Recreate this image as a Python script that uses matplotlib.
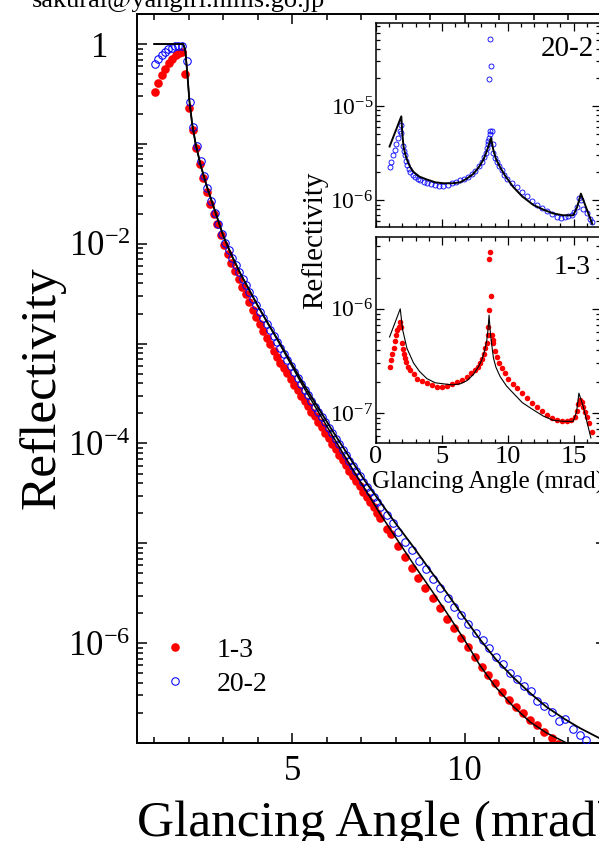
import numpy as np
import matplotlib
matplotlib.use('Agg')
import matplotlib.pyplot as plt
from matplotlib.ticker import LogLocator, MultipleLocator, FuncFormatter, NullFormatter

plt.rcParams['font.family'] = ['Liberation Serif', 'DejaVu Serif']
plt.rcParams['mathtext.fontset'] = 'custom'
plt.rcParams['mathtext.rm'] = 'Liberation Serif'
plt.rcParams['mathtext.it'] = 'Liberation Serif:italic'
plt.rcParams['mathtext.bf'] = 'Liberation Serif:bold'

# ---- main panel data (angle in mrad, log10 reflectivity) ----
angle_13 = [1.02, 1.12, 1.22, 1.32, 1.42, 1.52, 1.62, 1.72, 1.80, 1.89, 2.02, 2.11, 2.21, 2.32, 2.42,
            2.52, 2.63, 2.72, 2.83, 2.93, 3.03, 3.14, 3.24, 3.34, 3.45, 3.55, 3.65, 3.75, 3.85, 3.95,
            4.06, 4.16, 4.26, 4.36, 4.46, 4.56, 4.66, 4.76, 4.86, 4.96, 5.06, 5.16, 5.26, 5.36, 5.46,
            5.56, 5.66, 5.76, 5.86, 5.96, 6.06, 6.16, 6.26, 6.36, 6.46, 6.56, 6.66, 6.76, 6.86, 6.96,
            7.06, 7.16, 7.26, 7.36, 7.46, 7.56, 7.76, 7.86, 8.06, 8.26, 8.46, 8.66, 8.86, 9.08, 9.28,
            9.48, 9.68, 9.90, 10.10, 10.30, 10.50, 10.68, 10.88, 11.08, 11.28, 11.50, 11.70, 11.90,
            12.10, 12.30, 12.52, 12.72]
logR_13 = [-0.48, -0.39, -0.31, -0.25, -0.19, -0.15, -0.11, -0.09, -0.08, -0.30, -0.64, -0.86, -1.04,
           -1.20, -1.34, -1.48, -1.60, -1.70, -1.80, -1.91, -2.01, -2.10, -2.19, -2.27, -2.35, -2.43,
           -2.50, -2.58, -2.66, -2.73, -2.80, -2.87, -2.94, -3.00, -3.07, -3.13, -3.19, -3.24, -3.29,
           -3.35, -3.41, -3.46, -3.52, -3.57, -3.62, -3.68, -3.73, -3.79, -3.84, -3.90, -3.95, -4.01,
           -4.06, -4.12, -4.17, -4.22, -4.28, -4.33, -4.38, -4.43, -4.49, -4.54, -4.59, -4.64, -4.70,
           -4.75, -4.86, -4.91, -5.03, -5.14, -5.25, -5.35, -5.45, -5.55, -5.65, -5.76, -5.85, -5.95,
           -6.04, -6.14, -6.24, -6.32, -6.40, -6.49, -6.57, -6.64, -6.70, -6.77, -6.82, -6.89, -6.95,
           -7.01]

angle_202 = [1.02, 1.12, 1.22, 1.31, 1.41, 1.51, 1.60, 1.70, 1.80, 1.94, 2.04, 2.13, 2.23, 2.35, 2.44,
             2.54, 2.64, 2.76, 2.86, 2.96, 3.06, 3.16, 3.26, 3.36, 3.46, 3.56, 3.66, 3.76, 3.86, 3.96,
             4.06, 4.16, 4.26, 4.36, 4.46, 4.56, 4.66, 4.76, 4.86, 4.96, 5.06, 5.16, 5.26, 5.36, 5.46,
             5.56, 5.66, 5.76, 5.86, 5.96, 6.06, 6.16, 6.26, 6.36, 6.46, 6.56, 6.66, 6.76, 6.86, 6.96,
             7.06, 7.16, 7.26, 7.36, 7.46, 7.54, 7.74, 7.93, 8.07, 8.27, 8.46, 8.68, 8.88, 9.09, 9.28,
             9.51, 9.69, 9.89, 10.10, 10.32, 10.52, 10.71, 10.91, 11.12, 11.33, 11.52, 11.72, 11.92,
             12.11, 12.31, 12.52, 12.73, 12.92, 13.13, 13.34, 13.53]
logR_202 = [-0.20, -0.15, -0.11, -0.08, -0.05, -0.04, -0.02, -0.02, -0.02, -0.17, -0.58, -0.83, -1.02,
            -1.17, -1.32, -1.44, -1.57, -1.69, -1.80, -1.90, -1.99, -2.06, -2.14, -2.21, -2.28, -2.35,
            -2.41, -2.48, -2.55, -2.61, -2.68, -2.74, -2.80, -2.86, -2.92, -2.98, -3.04, -3.10, -3.16,
            -3.22, -3.28, -3.34, -3.40, -3.46, -3.51, -3.57, -3.63, -3.68, -3.74, -3.79, -3.85, -3.90,
            -3.96, -4.01, -4.07, -4.12, -4.18, -4.23, -4.28, -4.33, -4.39, -4.44, -4.49, -4.54, -4.59,
            -4.64, -4.72, -4.80, -4.89, -4.99, -5.07, -5.18, -5.26, -5.36, -5.45, -5.55, -5.64, -5.72,
            -5.81, -5.90, -5.97, -6.05, -6.14, -6.21, -6.30, -6.36, -6.43, -6.48, -6.58, -6.63, -6.69,
            -6.78, -6.76, -6.86, -6.92, -6.97]

fit_angle_202 = [1.00, 1.84, 1.90, 1.96, 2.02, 2.10, 2.20, 2.35, 2.52, 2.75, 3.00, 3.25, 3.50, 3.75,
                 4.00, 4.30, 4.60, 5.00, 5.32, 5.75, 6.20, 6.72, 7.10, 7.54, 8.00, 8.50, 9.00, 9.49,
                 10.00, 10.44, 10.90, 11.40, 11.90, 12.38, 12.90, 13.34, 13.90, 14.20]
fit_logR_202 = [0.0, 0.0, -0.06, -0.30, -0.57, -0.80, -1.00, -1.22, -1.42, -1.66, -1.92, -2.12, -2.30,
                -2.46, -2.62, -2.80, -2.97, -3.21, -3.40, -3.64, -3.89, -4.17, -4.37, -4.58, -4.80,
                -5.03, -5.27, -5.50, -5.75, -5.96, -6.16, -6.34, -6.50, -6.64, -6.76, -6.85, -6.95,
                -7.00]

fit_angle_13 = [1.00, 1.84, 1.90, 1.96, 2.02, 2.10, 2.20, 2.35, 2.52, 2.75, 3.00, 3.25, 3.50, 3.75,
                4.00, 4.30, 4.60, 5.00, 5.32, 5.75, 6.20, 6.72, 7.10, 7.54, 8.00, 8.50, 9.00, 9.49,
                10.00, 10.44, 10.90, 11.40, 11.90, 12.38, 12.96, 13.30]
fit_logR_13 = [0.0, 0.0, -0.06, -0.30, -0.57, -0.80, -1.00, -1.22, -1.42, -1.66, -1.92, -2.12, -2.30,
               -2.46, -2.62, -2.80, -2.98, -3.23, -3.43, -3.68, -3.94, -4.24, -4.45, -4.70, -4.94,
               -5.20, -5.45, -5.70, -5.97, -6.22, -6.44, -6.63, -6.79, -6.90, -7.00, -7.05]

# ---- inset data ----
in_angle_202 = [1.03, 1.16, 1.29, 1.41, 1.54, 1.66, 1.79, 1.87, 1.92, 2.02, 2.10, 2.17, 2.26, 2.35,
                2.47, 2.60, 2.79, 2.98, 3.17, 3.36, 3.61, 3.86, 4.17, 4.49, 4.80, 5.12, 5.44, 5.76,
                6.07, 6.39, 6.70, 7.02, 7.27, 7.52, 7.78, 8.03, 8.20, 8.33, 8.42, 8.48, 8.53, 8.58,
                8.62, 8.66, 8.61, 8.68, 8.76, 8.79, 8.85, 8.91, 9.03, 9.16, 9.35, 9.55, 9.73, 9.92,
                10.30, 10.68, 11.06, 11.44, 11.81, 12.19, 12.57, 12.95, 13.33, 13.71, 14.02, 14.34,
                14.60, 14.85, 15.04, 15.23, 15.40, 15.55, 15.73, 15.98, 16.23, 16.41]
in_logR_202 = [-5.65, -5.59, -5.52, -5.47, -5.40, -5.34, -5.26, -5.20, -5.29, -5.42, -5.48, -5.52,
               -5.58, -5.63, -5.67, -5.70, -5.73, -5.75, -5.77, -5.79, -5.81, -5.82, -5.83, -5.84,
               -5.85, -5.85, -5.84, -5.82, -5.81, -5.79, -5.77, -5.75, -5.72, -5.69, -5.64, -5.59,
               -5.54, -5.50, -5.45, -5.40, -5.37, -5.34, -5.30, -5.27, -4.71, -4.29, -4.58, -5.27,
               -5.40, -5.50, -5.55, -5.59, -5.64, -5.68, -5.73, -5.77, -5.82, -5.86, -5.91, -5.96,
               -6.01, -6.05, -6.08, -6.11, -6.15, -6.18, -6.19, -6.18, -6.17, -6.16, -6.12, -6.07,
               -5.98, -6.00, -6.09, -6.14, -6.20, -6.23]
in_fit_angle_202 = [1.03, 1.92, 2.00, 2.09, 2.20, 2.35, 2.60, 2.85, 3.30, 3.86, 4.50, 5.12, 5.80, 6.39,
                    6.90, 7.39, 7.80, 8.15, 8.35, 8.53, 8.73, 8.91, 9.10, 9.42, 9.80, 10.42, 11.10,
                    11.94, 12.70, 13.45, 14.20, 14.97, 15.27, 15.55, 15.98, 16.41]
in_fit_logR_202 = [-5.43, -5.11, -5.30, -5.43, -5.50, -5.57, -5.65, -5.70, -5.75, -5.78, -5.81, -5.82,
                   -5.82, -5.81, -5.77, -5.72, -5.65, -5.57, -5.50, -5.43, -5.34, -5.47, -5.56, -5.65,
                   -5.74, -5.86, -5.96, -6.05, -6.10, -6.14, -6.16, -6.16, -6.07, -5.93, -6.09, -6.25]

in_angle_13 = [1.03, 1.16, 1.24, 1.33, 1.43, 1.53, 1.63, 1.71, 1.79, 1.87, 1.97, 2.04, 2.10, 2.18,
               2.27, 2.43, 2.60, 2.85, 3.11, 3.48, 3.86, 4.24, 4.62, 5.00, 5.38, 5.76, 6.14, 6.52,
               6.90, 7.21, 7.52, 7.71, 7.90, 8.05, 8.21, 8.31, 8.41, 8.48, 8.53, 8.58, 8.58, 8.66,
               8.74, 8.79, 8.85, 8.91, 9.03, 9.16, 9.35, 9.55, 9.80, 10.05, 10.37, 10.68, 11.06,
               11.44, 11.81, 12.19, 12.57, 12.95, 13.33, 13.71, 14.09, 14.47, 14.80, 15.10, 15.25,
               15.35, 15.48, 15.61, 15.74, 15.86, 16.02, 16.19, 16.41]
in_logR_13 = [-6.56, -6.49, -6.43, -6.38, -6.31, -6.25, -6.20, -6.17, -6.13, -6.17, -6.33, -6.39,
              -6.43, -6.47, -6.51, -6.56, -6.59, -6.63, -6.67, -6.69, -6.71, -6.73, -6.75, -6.75,
              -6.74, -6.72, -6.70, -6.68, -6.65, -6.62, -6.59, -6.56, -6.52, -6.48, -6.43, -6.38,
              -6.33, -6.25, -6.17, -6.01, -5.52, -5.45, -5.88, -6.25, -6.30, -6.33, -6.40, -6.46,
              -6.52, -6.57, -6.62, -6.67, -6.72, -6.76, -6.81, -6.86, -6.90, -6.94, -6.98, -7.02,
              -7.05, -7.07, -7.08, -7.08, -7.07, -7.04, -6.98, -6.91, -6.88, -6.89, -6.94, -6.99,
              -7.04, -7.10, -7.18]
in_fit_angle_13 = [1.03, 1.84, 2.02, 2.35, 2.85, 3.30, 3.86, 4.50, 5.12, 5.80, 6.39, 6.90, 7.39, 7.80,
                   8.03, 8.25, 8.41, 8.50, 8.58, 8.66, 8.74, 8.91, 9.10, 9.42, 9.90, 10.42, 11.10,
                   11.94, 12.70, 13.45, 14.20, 14.97, 15.22, 15.40, 15.73, 16.31]
in_fit_logR_13 = [-6.27, -6.00, -6.20, -6.38, -6.52, -6.60, -6.67, -6.71, -6.72, -6.73, -6.72, -6.69,
                  -6.63, -6.55, -6.49, -6.40, -6.30, -6.20, -6.06, -6.20, -6.30, -6.47, -6.56, -6.65,
                  -6.74, -6.81, -6.90, -6.97, -7.03, -7.07, -7.08, -7.08, -6.99, -6.81, -6.94, -7.24]

W, H = 599, 841
fig = plt.figure(figsize=(W / 100, H / 100), dpi=100)


def px_box(x0, y0, x1, y1):
    # pixel box (top-left origin) -> figure fraction rect
    return [x0 / W, 1 - y1 / H, (x1 - x0) / W, (y1 - y0) / H]


def main_fmt(v, pos):
    e = int(round(np.log10(v)))
    if e == 0:
        return '1'
    if e % 2:
        return ''
    return r'$\mathregular{10^{%d}}$' % e


def inset_fmt(v, pos):
    e = int(round(np.log10(v)))
    return r'$\mathregular{10^{%d}}$' % e


# ---- main axes ----
ax = fig.add_axes(px_box(137, 14, 606, 743))
ax.plot(angle_13, 10 ** np.array(logR_13), 'o', color='red', ms=6.2, mec='red', mew=0, label='1-3', zorder=2)
ax.plot(angle_202, 10 ** np.array(logR_202), 'o', mfc='none', mec='blue', ms=5.4, mew=0.75, label='20-2', zorder=3)
ax.plot(fit_angle_202, 10 ** np.array(fit_logR_202), '-', color='black', lw=1.3, zorder=4)
ax.plot(fit_angle_13, 10 ** np.array(fit_logR_13), '-', color='black', lw=1.1, zorder=4)
ax.set_yscale('log')
ax.set_xlim(0.5, 14.1)
ax.set_ylim(1e-7, 2)
ax.xaxis.set_major_locator(MultipleLocator(5))
ax.xaxis.set_minor_locator(MultipleLocator(1))
ax.yaxis.set_major_locator(LogLocator(base=10, numticks=20))
ax.yaxis.set_minor_locator(LogLocator(base=10, subs=np.arange(2, 10), numticks=20))
ax.yaxis.set_major_formatter(FuncFormatter(main_fmt))
ax.yaxis.set_minor_formatter(NullFormatter())
ax.tick_params(which='both', direction='in', top=True, right=True, width=1.1, labelsize=25)
ax.tick_params(which='major', length=7.5)
ax.tick_params(which='minor', length=4.3)
ax.tick_params(axis='x', pad=9)
ax.tick_params(axis='y', pad=27)
for lab in ax.get_yticklabels():
    lab.set_horizontalalignment('center')
for sp in ax.spines.values():
    sp.set_linewidth(1.4)

ax.legend(loc='center left', bbox_to_anchor=(161 / W, 1 - 667 / H), bbox_transform=fig.transFigure,
          frameon=False, fontsize=20, numpoints=1, handlelength=1.0, handletextpad=1.0,
          labelspacing=0.3, borderpad=0, borderaxespad=0)

fig.text(42 / W, 1 - 388 / H, 'Reflectivity', rotation=90, fontsize=37, ha='center', va='center')
fig.text(137 / W, 1 - 836 / H, 'Glancing Angle (mrad)', fontsize=37, ha='left', va='baseline')
fig.text(32 / W, 1 - 7 / H, 'sakurai@yangiri.nims.go.jp', fontsize=19, ha='left', va='baseline')

# ---- inset panels ----
axt = fig.add_axes(px_box(376, 23, 600, 227))
axb = fig.add_axes(px_box(376, 237, 600, 443))
for a in (axt, axb):
    a.patch.set_facecolor('white')
    a.set_yscale('log')
    a.set_xlim(0, 17)
    a.xaxis.set_major_locator(MultipleLocator(5))
    a.xaxis.set_minor_locator(MultipleLocator(1))
    a.yaxis.set_major_locator(LogLocator(base=10, numticks=20))
    a.yaxis.set_minor_locator(LogLocator(base=10, subs=np.arange(2, 10), numticks=20))
    a.yaxis.set_major_formatter(FuncFormatter(inset_fmt))
    a.yaxis.set_minor_formatter(NullFormatter())
    a.tick_params(which='both', direction='in', top=True, right=True, width=0.9)
    a.tick_params(which='major', length=5.5)
    a.tick_params(which='minor', length=3.2)
    a.tick_params(axis='y', labelsize=17, pad=2)
    a.tick_params(axis='x', labelsize=19, pad=2)
    for sp in a.spines.values():
        sp.set_linewidth(1.1)

axt.plot(in_angle_202, 10 ** np.array(in_logR_202), 'o', mfc='none', mec='blue', ms=3.6, mew=0.6, zorder=2)
axt.plot(in_fit_angle_202, 10 ** np.array(in_fit_logR_202), '-', color='black', lw=1.4, zorder=3)
axt.set_ylim(5.2e-7, 7.6e-5)
axt.tick_params(axis='x', labelbottom=False)
axt.text(594 / W, 1 - 56 / H, '20-2', transform=fig.transFigure, fontsize=21, ha='right', va='baseline')

axb.plot(in_angle_13, 10 ** np.array(in_logR_13), 'o', color='red', ms=4.0, mew=0, zorder=2)
axb.plot(in_fit_angle_13, 10 ** np.array(in_fit_logR_13), '-', color='black', lw=0.8, zorder=3)
axb.set_ylim(5.15e-8, 4.9e-6)
axb.text(591 / W, 1 - 274 / H, '1-3', transform=fig.transFigure, fontsize=20, ha='right', va='baseline')

fig.text(315 / W, 1 - 240 / H, 'Reflectivity', rotation=90, fontsize=21, ha='center', va='center')
fig.text(372 / W, 1 - 489 / H, 'Glancing Angle (mrad)', fontsize=18, ha='left', va='baseline')

fig.savefig('out.png', dpi=100)
